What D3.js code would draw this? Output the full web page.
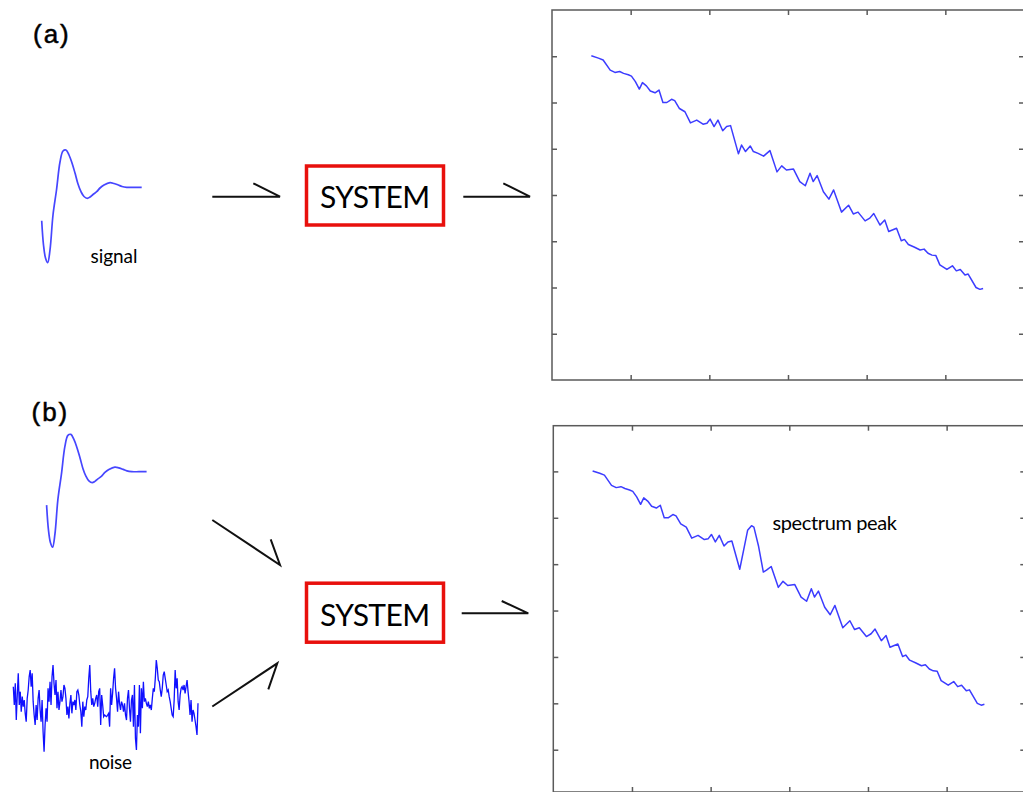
<!DOCTYPE html>
<html>
<head>
<meta charset="utf-8">
<script src="https://cdn.jsdelivr.net/npm/d3@7"></script>
<style>
  body { margin: 0; background: #fff; }
  svg { display: block; }
</style>
</head>
<body>
<div id="figure"></div>
<script>
// spectrum (a): frequency / level
const freqA = [0.50,0.59,0.65,0.74,0.80,0.86,0.91,0.97,1.01,1.06,
  1.11,1.15,1.20,1.25,1.31,1.36,1.41,1.46,1.52,1.56,
  1.62,1.69,1.76,1.84,1.92,1.97,2.01,2.06,2.11,2.17,
  2.22,2.27,2.37,2.41,2.46,2.52,2.56,2.62,2.69,2.77,
  2.86,2.92,2.98,3.07,3.15,3.22,3.28,3.32,3.37,3.45,
  3.52,3.58,3.68,3.77,3.83,3.89,3.98,4.04,4.09,4.17,
  4.23,4.28,4.38,4.44,4.48,4.53,4.61,4.68,4.73,4.78,
  4.83,4.88,4.93,5.02,5.09,5.14,5.19,5.25,5.29,5.39,
  5.44,5.48];
const levelA = [7.01,6.96,6.92,6.70,6.65,6.67,6.63,6.60,6.57,6.45,
  6.29,6.43,6.36,6.25,6.21,6.27,6.00,6.00,6.07,6.04,
  5.87,5.80,5.56,5.62,5.53,5.55,5.64,5.48,5.62,5.39,
  5.48,5.50,4.89,5.08,4.94,5.06,4.94,4.90,4.84,4.96,
  4.50,4.63,4.54,4.56,4.29,4.20,4.47,4.29,4.42,4.07,
  3.91,4.11,3.63,3.78,3.59,3.63,3.44,3.50,3.60,3.35,
  3.46,3.21,3.28,3.01,3.04,2.93,2.87,2.81,2.83,2.74,
  2.70,2.69,2.49,2.39,2.47,2.36,2.39,2.27,2.29,2.00,
  1.96,1.98];

// spectrum (b): same trend, with the peak coming from the hidden signal
const freqB = [0.50,0.59,0.65,0.74,0.80,0.86,0.91,0.97,1.01,1.06,
  1.11,1.15,1.20,1.25,1.31,1.36,1.41,1.46,1.52,1.56,
  1.62,1.69,1.76,1.84,1.92,1.97,2.01,2.06,2.11,2.17,
  2.22,2.27,2.37,2.42,2.47,2.52,2.55,2.61,2.67,2.71,2.77,
  2.86,2.92,2.98,3.07,3.15,3.22,3.28,3.32,3.37,3.45,
  3.52,3.58,3.68,3.77,3.83,3.89,3.98,4.04,4.09,4.17,
  4.23,4.28,4.38,4.44,4.48,4.53,4.61,4.68,4.73,4.78,
  4.83,4.88,4.93,5.02,5.09,5.14,5.19,5.25,5.29,5.39,
  5.44,5.48];
const levelB = [7.01,6.96,6.92,6.70,6.65,6.67,6.63,6.60,6.57,6.45,
  6.29,6.43,6.36,6.25,6.21,6.27,6.00,6.00,6.07,6.04,
  5.87,5.80,5.56,5.62,5.53,5.55,5.64,5.48,5.62,5.39,
  5.48,5.50,4.89,5.31,5.73,5.83,5.80,5.38,4.83,4.87,4.95,
  4.50,4.63,4.54,4.56,4.29,4.20,4.47,4.29,4.42,4.07,
  3.91,4.11,3.63,3.78,3.59,3.63,3.44,3.50,3.60,3.35,
  3.46,3.21,3.28,3.01,3.04,2.93,2.87,2.81,2.83,2.74,
  2.70,2.69,2.49,2.39,2.47,2.36,2.39,2.27,2.29,2.00,
  1.96,1.98];

const xTicks = [1, 2, 3, 4, 5];
const yTicks = [1, 2, 3, 4, 5, 6, 7];

// the input pulse: time / amplitude
const signalT = [0, 1.8, 3.8, 6, 8.3, 11.3, 14.8, 18.3, 21.3, 24.3, 27.3, 30.3, 33.3, 36.3,
  39.3, 42.3, 45.6, 48.3, 51.3, 55, 58.3, 62.3, 68.3, 72.3, 76.6, 80.3, 85, 92.3, 100];
const signalV = [-33.4, -57.7, -70.7, -75.4, -62.7, -27.7, -2.7, 25.3, 36.3, 37.3, 32.3, 24.3, 14.3, 3.3,
  -4.4, -9.2, -11, -9.7, -7.2, -4.4, -0.7, 2.3, 4.6, 3.8, 2.3, 0.8, 0, 0, 0];

// noise samples, evenly spaced
const noiseV = [55,0,65,-45,30,95,0,40,-20,25,-5,15,-25,-50,20,45,85,105,55,95,10,-30,-60,0,
  -45,20,45,-15,-50,15,-80,-140,-60,-10,-50,50,10,70,0,85,120,65,30,75,-10,40,-15,10,45,10,
  25,60,50,20,-30,-5,-40,5,30,-25,10,0,15,-15,40,45,30,0,-20,-65,10,-35,-5,-15,15,25,80,120,
  40,0,20,-5,5,20,30,-5,40,50,-60,30,0,-35,-30,-33,
  -35,-30,-25,-65,50,0,35,80,110,50,20,-20,40,5,-15,10,0,-20,5,-30,-45,20,45,-10,-50,15,30,
  -65,60,-100,-135,-30,-65,60,-85,50,-10,70,10,20,5,-5,10,-10,0,-15,20,50,40,80,135,110,75,
  70,45,25,50,90,100,80,60,40,45,25,10,-10,-30,-35,15,105,50,80,10,-15,30,50,55,45,60,35,55,
  75,40,10,-30,15,-50,-15,-25,-45,-65,-90,5];

const blue = "#3c3cff";
const frameColor = "#5a5a5a";

const svg = d3
  .select("#figure")
  .append("svg")
  .attr("width", 1023)
  .attr("height", 792);

// a framed spectrum plot with inward ticks on all four sides
spectrum = (box, freq, level) => {
  const x = d3.scaleLinear().domain([0, 6]).range([box.left, box.right]);
  const y = d3.scaleLinear().domain([0, 8]).range([box.y0, box.y8]);
  const g = svg.append("g");

  const axes = [
    [d3.axisBottom(x).tickValues(xTicks), `translate(0,${box.bottom})`],
    [d3.axisTop(x).tickValues(xTicks), `translate(0,${box.top})`],
    [d3.axisLeft(y).tickValues(yTicks), `translate(${box.left},0)`],
    [d3.axisRight(y).tickValues(yTicks), `translate(${box.right},0)`]
  ];
  axes.forEach(([axis, tr]) => {
    g.append("g")
      .attr("transform", tr)
      .call(axis.tickSize(-5).tickFormat(""))
      .call(a => a.select(".domain").remove())
      .call(a => a.selectAll(".tick line").attr("stroke", frameColor).attr("stroke-width", 1.5));
  });

  g.append("rect")
    .attr("x", box.left)
    .attr("y", box.top)
    .attr("width", box.right - box.left)
    .attr("height", box.bottom - box.top)
    .attr("fill", "none")
    .attr("stroke", frameColor)
    .attr("stroke-width", 1.5);

  g.append("path")
    .datum(d3.zip(freq, level))
    .attr("fill", "none")
    .attr("stroke", blue)
    .attr("stroke-width", 1.5)
    .attr("stroke-linejoin", "round")
    .attr("d", d3.line().x(d => x(d[0])).y(d => y(d[1])));
};

pulse = (x0, base) => {
  const x = d3.scaleLinear().domain([0, 100]).range([x0, x0 + 100]);
  const y = d3.scaleLinear().domain([-80, 40]).range([base + 80, base - 40]);
  svg.append("path")
    .datum(d3.zip(signalT, signalV))
    .attr("fill", "none")
    .attr("stroke", "#4646ff")
    .attr("stroke-width", 1.7)
    .attr("d", d3.line().curve(d3.curveCatmullRom).x(d => x(d[0])).y(d => y(d[1])));
};

noise = () => {
  const x = d3.scaleLinear().domain([0, noiseV.length - 1]).range([13.3, 198]);
  const y = d3.scaleLinear().domain([-150, 150]).range([755, 655]);
  svg.append("path")
    .datum(noiseV)
    .attr("fill", "none")
    .attr("stroke", "#1010ff")
    .attr("stroke-width", 1.3)
    .attr("d", d3.line().x((d, i) => x(i)).y(d => y(d)));
};

systemBox = (cy, baseline) => {
  svg.append("rect")
    .attr("x", 306.5)
    .attr("y", cy - 29.5)
    .attr("width", 137)
    .attr("height", 59)
    .attr("fill", "none")
    .attr("stroke", "#e8100c")
    .attr("stroke-width", 3.5);
  svg.append("text")
    .attr("x", 375)
    .attr("y", baseline)
    .attr("text-anchor", "middle")
    .attr("font-family", "Lato, 'Open Sans', sans-serif")
    .attr("font-size", 30)
    .attr("textLength", 110)
    .attr("lengthAdjust", "spacing")
    .text("SYSTEM");
};

// arrows: shaft start, tip, barb start
const arrows = [
  [[212.3, 196.7], [280, 196.7], [253.3, 183.3]],
  [[463.3, 196.7], [530, 196.7], [503.3, 183.3]],
  [[212.3, 520], [280, 565], [270.7, 539.3]],
  [[212.3, 706.5], [277.3, 663.3], [268.3, 689.3]],
  [[461.7, 613.3], [528.3, 613.3], [501.7, 601]]
];
arrows.forEach(([a, tip, barb]) => {
  svg.append("path")
    .attr("d", `M${a}L${tip}L${barb}`)
    .attr("fill", "none")
    .attr("stroke", "#111")
    .attr("stroke-width", 2)
    .attr("stroke-linejoin", "miter");
});

spectrum({ left: 552, right: 1024, top: 10, bottom: 380, y0: 380, y8: 10 }, freqA, levelA);
spectrum({ left: 553.3, right: 1025.3, top: 425.7, bottom: 792, y0: 796.1, y8: 425 }, freqB, levelB);
pulse(41.7, 187.3);
pulse(46.6, 471.7);
noise();
systemBox(195.5, 208.3);
systemBox(612.7, 626);

// panel letters and captions
const labels = [
  { t: "(a)", x: 33, y: 43, size: 26, font: "'Liberation Sans', Arial, sans-serif", w: null },
  { t: "(b)", x: 31.5, y: 420.7, size: 26, font: "'Liberation Sans', Arial, sans-serif", w: null },
  { t: "signal", x: 90.5, y: 263.3, size: 19, font: "Lato, sans-serif", w: 47 },
  { t: "noise", x: 89, y: 769.3, size: 19, font: "Lato, sans-serif", w: 43 },
  { t: "spectrum peak", x: 772.5, y: 530, size: 20, font: "Lato, sans-serif", w: 124.5 }
];
labels.forEach(d => {
  const t = svg.append("text")
    .attr("x", d.x)
    .attr("y", d.y)
    .attr("font-family", d.font)
    .attr("font-size", d.size)
    .attr("fill", "#000")
    .text(d.t);
  if (d.w) t.attr("textLength", d.w).attr("lengthAdjust", "spacing");
  else t.attr("letter-spacing", 2).attr("stroke", "#000").attr("stroke-width", 0.5);
});
</script>
</body>
</html>
